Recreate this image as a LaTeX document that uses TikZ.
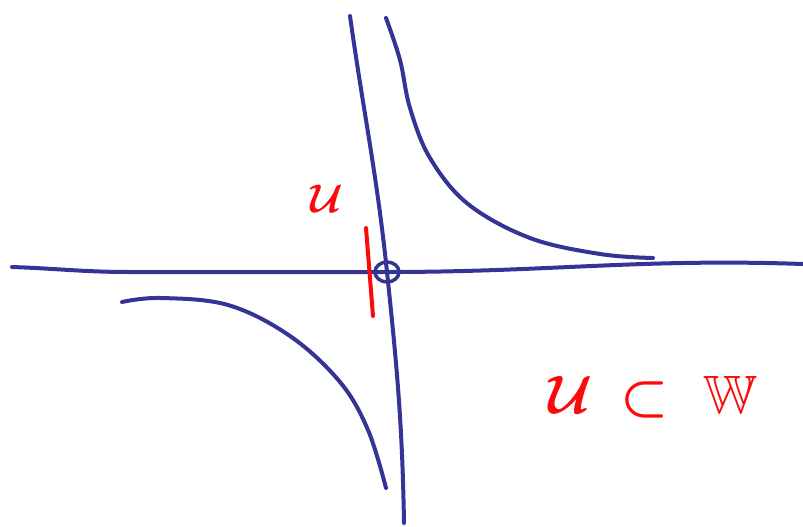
\RequirePackage{fix-cm}
\documentclass[tikz,border=0pt]{standalone}
\usepackage{amssymb}
\definecolor{penblue}{RGB}{52,52,150}
\definecolor{penred}{RGB}{250,10,10}
\tikzset{pen/.style={draw=penblue, line width=4pt, line cap=round, line join=round},
  redtext/.style={text=penred, inner sep=0pt}}
\begin{document}
\begin{tikzpicture}[x=1pt, y=-1pt]
  \useasboundingbox (0,0) rectangle (803,527);

  \coordinate (o) at (387,272);
  \coordinate (h1) at (12,267);
  \coordinate (h2) at (803,264);
  \coordinate (v1) at (350,16);
  \coordinate (v2) at (404,523);

  % axes
  \draw[pen] (h1) to[out=-2, in=180] (130,272) -- (o) to[out=0, in=178] (h2);
  \draw[pen] (v1) to[out=-82, in=96] (o) to[out=-84, in=91] (v2);

  % branches
  \draw[pen] plot[smooth, tension=0.6] coordinates {(386,18) (400,60) (410,108) (430,158) (468,204) (530,238) (600,254) (653,258)};
  \draw[pen] plot[smooth, tension=0.6] coordinates {(122,302) (160,298) (228,305) (290,336) (340,382) (368,430) (386,488)};

  \draw[pen, line width=3.5pt] (o) ellipse (12 and 10);

  % subspace
  \draw[draw=penred, line width=4pt, line cap=round] (366,228) -- (373,316);
  \node[redtext, font=\fontsize{40}{44}\selectfont\boldmath] (lab) at (327,199) {$\mathcal{U}$};
  \node[redtext, font=\fontsize{54}{60}\selectfont\boldmath] (incl) at (653,397) {$\mathcal{U}\,\subset\;\mathbb{W}$};
\end{tikzpicture}
\end{document}
